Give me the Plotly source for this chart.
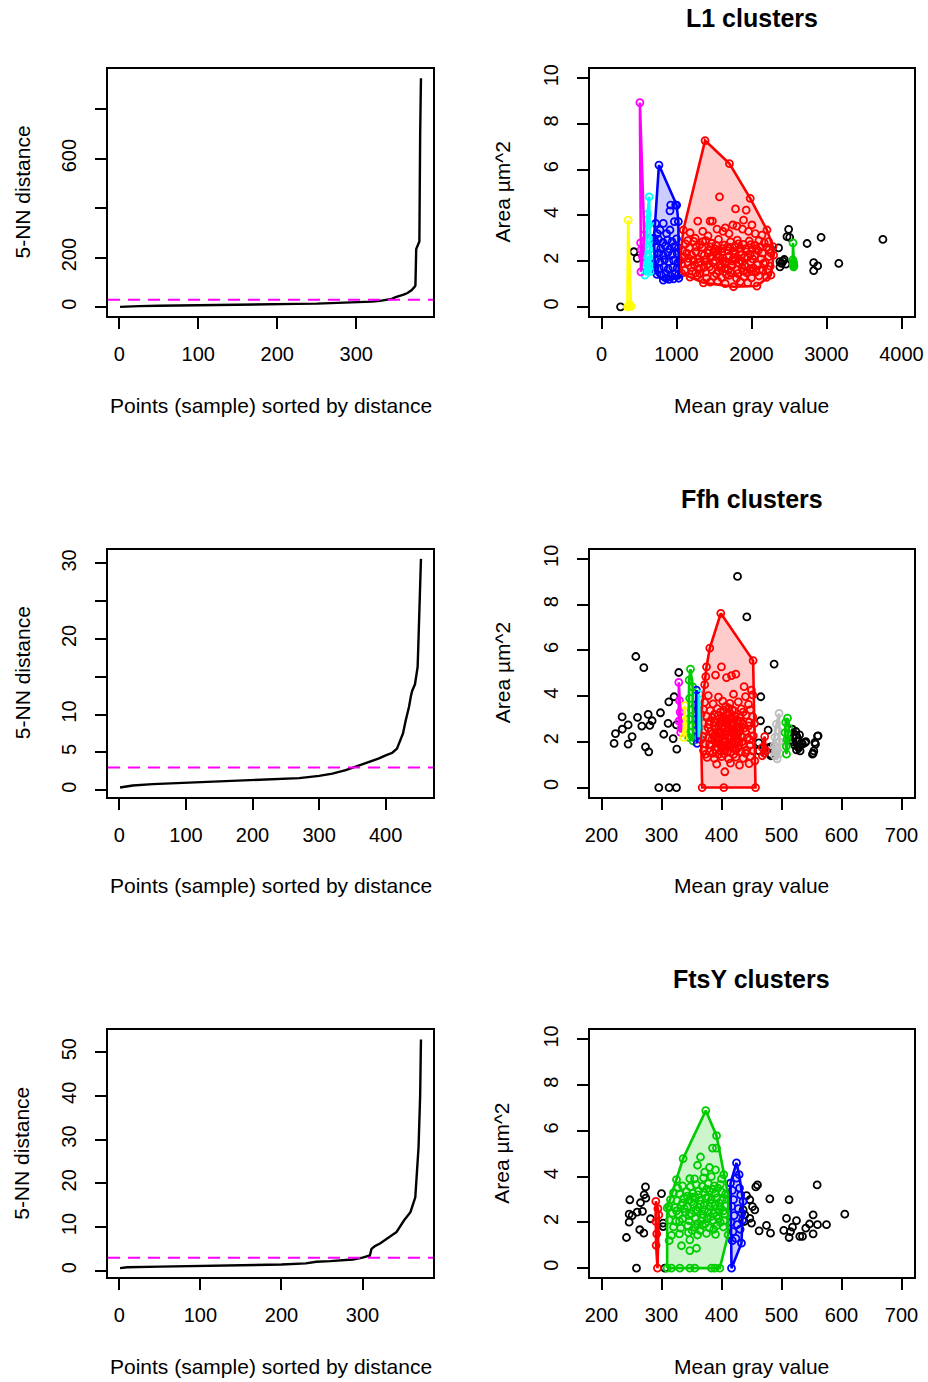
import plotly.graph_objects as go

W, H = 928, 1382
FONT = "Liberation Sans, Arial, Helvetica, sans-serif"

# ---------------- k-NN distance curves (index, distance) ----------------
knn1_idx = [1, 10, 25, 50, 75, 100, 125, 150, 175, 200, 225, 250, 275, 300, 310, 320, 330, 340, 345, 350,
            355, 360, 365, 370, 374, 375, 376, 377, 378, 379, 380, 381, 382]
knn1_val = [1, 3, 4, 5.5, 7, 8, 9, 10, 11, 12, 13, 14, 16, 18, 20, 22, 25, 29, 33, 40,
            44, 50, 57, 68, 82, 88, 235, 245, 250, 258, 265, 700, 925]
knn1_n = 382
eps1 = 30

knn2_idx = [1, 10, 20, 50, 100, 150, 200, 250, 270, 300, 320, 340, 352, 370, 390, 400, 410, 417, 422,
            426, 430, 435, 438, 440, 444, 446, 448, 449, 450, 451, 452, 453]
knn2_val = [0.35, 0.5, 0.62, 0.8, 1.0, 1.15, 1.3, 1.5, 1.6, 1.9, 2.2, 2.65, 3.0, 3.6, 4.2, 4.6, 4.95, 5.5, 6.5,
            7.5, 9.2, 11.0, 12.5, 13.2, 14.0, 15.0, 16.3, 19.0, 22.9, 25.0, 28.0, 30.6]
knn2_n = 453
eps2 = 3

knn3_idx = [1, 10, 50, 100, 150, 200, 230, 243, 260, 288, 300, 309, 311, 315, 322, 330, 342, 351, 359,
            365, 367, 369, 371, 372]
knn3_val = [0.6, 0.8, 0.95, 1.07, 1.25, 1.44, 1.7, 2.05, 2.2, 2.58, 3.0, 3.5, 5.0, 5.6, 6.3, 7.4, 8.9, 11.5, 13.4,
            16.8, 22.9, 28.2, 40.0, 52.9]
knn3_n = 372
eps3 = 3

# ---------------- L1 clusters (mean gray value, area) ----------------
l1_noise = [(254, 0.0), (432, 2.41), (476, 2.12), (2361, 2.58), (2495, 3.39), (2473, 3.07), (2509, 3.04),
            (2437, 2.07), (2379, 1.98), (2379, 1.75), (2459, 1.87), (2741, 2.77), (2928, 3.04), (2829, 1.93),
            (2882, 1.79), (2829, 1.58), (3164, 1.9), (3752, 2.95), (2400, 1.9), (2420, 2.0)]
l1_red = [(1381, 7.27), (1706, 6.26), (1983, 4.74), (2286, 2.63), (2295, 2.26), (2259, 1.39), (2072, 0.91),
          (1760, 0.88), (1359, 1.05), (1069, 1.46), (1047, 2.04), (1091, 3.36),
          (1573, 4.81), (1787, 4.28), (1929, 4.23), (1894, 3.79), (1283, 3.75), (1448, 3.75), (1479, 3.75),
          (1181, 3.24), (1751, 3.58), (1805, 3.53), (2006, 3.58), (2139, 3.14), (2206, 3.36), (2228, 2.85),
          (1650, 3.45), (1620, 3.3), (1700, 3.2), (1540, 3.4), (1350, 3.3), (1420, 3.1), (1960, 3.3),
          (2050, 3.2), (2100, 2.9), (1880, 3.4), (1250, 3.0), (1150, 2.9),
          (1120, 2.75), (1230, 2.86), (1310, 2.71), (1390, 2.9), (1470, 2.78), (1560, 2.95), (1640, 2.7),
          (1720, 2.84), (1810, 2.92), (1890, 2.73), (1970, 2.88), (2050, 2.69), (2170, 2.8),
          (1080, 2.45), (1170, 2.58), (1260, 2.41), (1340, 2.6), (1430, 2.47), (1510, 2.55), (1600, 2.38),
          (1680, 2.62), (1760, 2.44), (1850, 2.57), (1930, 2.4), (2010, 2.52), (2090, 2.46), (2200, 2.6),
          (2260, 2.35),
          (1100, 2.18), (1200, 2.27), (1290, 2.1), (1370, 2.25), (1450, 2.15), (1540, 2.3), (1620, 2.12),
          (1700, 2.22), (1790, 2.08), (1870, 2.28), (1950, 2.16), (2040, 2.24), (2130, 2.1), (2230, 2.2),
          (1070, 1.88), (1150, 1.95), (1240, 1.82), (1320, 1.97), (1410, 1.85), (1490, 1.93), (1580, 1.8),
          (1660, 1.98), (1740, 1.86), (1830, 1.92), (1910, 1.79), (1990, 1.96), (2080, 1.84), (2160, 1.9),
          (2250, 1.78),
          (1110, 1.6), (1210, 1.55), (1300, 1.66), (1390, 1.52), (1470, 1.63), (1560, 1.58), (1640, 1.68),
          (1720, 1.5), (1810, 1.62), (1890, 1.56), (1980, 1.65), (2060, 1.53), (2150, 1.6), (2220, 1.64),
          (1180, 1.3), (1280, 1.36), (1400, 1.25), (1500, 1.33), (1600, 1.28), (1700, 1.38), (1800, 1.24),
          (1900, 1.32), (2000, 1.27), (2100, 1.35), (2200, 1.29),
          (1450, 1.08), (1550, 1.12), (1650, 1.02), (1850, 1.1), (1950, 1.05),
          (1335, 2.32), (1515, 2.02), (1685, 2.45), (1775, 2.65), (1455, 2.62), (1595, 1.72), (1860, 2.02),
          (1225, 2.05), (1925, 2.55), (1365, 1.72), (1555, 2.48), (1745, 2.0), (2015, 2.1), (1645, 1.88),
          (1425, 2.35),
          (1135, 2.35), (1195, 1.72), (1265, 2.62), (1315, 1.45), (1385, 2.05), (1440, 1.75), (1495, 2.4),
          (1530, 1.45), (1575, 2.18), (1615, 2.55), (1665, 1.42), (1710, 2.6), (1735, 1.78), (1780, 2.3),
          (1820, 1.45), (1845, 2.4), (1875, 1.7), (1905, 2.15), (1940, 1.48), (1985, 2.3), (2025, 1.7),
          (2065, 2.55), (2110, 1.62), (2145, 2.35), (2185, 1.95), (2235, 2.5), (1160, 2.12), (1290, 1.92),
          (1350, 2.85), (1525, 2.7), (1690, 1.62), (1825, 2.75), (1990, 2.72), (2120, 2.62), (1255, 1.48),
          (1620, 2.0), (1480, 2.2), (1760, 2.15), (1880, 1.95), (2000, 1.55)]
l1_green = [(2553, 2.8), (2562, 1.75), (2556, 1.85), (2560, 1.95), (2551, 2.05), (2566, 1.8), (2558, 1.9)]
l1_blue = [(766, 6.2), (1002, 4.45), (922, 4.45), (989, 4.45), (913, 4.2), (971, 3.73), (1025, 3.73),
           (722, 3.65), (824, 3.65), (780, 3.36), (913, 3.36), (869, 3.2), (744, 3.2), (1030, 1.25),
           (713, 1.61), (824, 1.17), (700, 3.0),
           (710, 2.88), (760, 2.95), (820, 2.82), (880, 2.93), (940, 2.85), (1000, 2.97),
           (730, 2.6), (790, 2.55), (850, 2.66), (910, 2.52), (970, 2.63), (1025, 2.58),
           (705, 2.3), (765, 2.35), (825, 2.25), (885, 2.38), (945, 2.28), (1010, 2.33),
           (720, 2.02), (780, 1.95), (840, 2.06), (900, 1.98), (960, 2.04), (1020, 1.94),
           (710, 1.72), (770, 1.68), (830, 1.75), (890, 1.66), (950, 1.73), (1010, 1.7),
           (740, 1.42), (800, 1.38), (860, 1.45), (920, 1.36), (980, 1.44), (1025, 1.4),
           (900, 1.2), (960, 1.22), (865, 1.25)]
l1_cyan = [(636, 4.81), (612, 4.05), (630, 3.6), (625, 3.0), (645, 2.9), (615, 2.6), (640, 2.5), (600, 2.3),
           (630, 2.2), (650, 2.0), (605, 1.9), (635, 1.8), (620, 1.6), (579, 1.39), (650, 1.55), (590, 1.7)]
l1_magenta = [(512, 8.93), (570, 3.14), (521, 2.8), (526, 1.53), (545, 2.2), (530, 2.5)]
l1_yellow = [(356, 3.79), (345, 0.0), (365, 0.02), (392, 0.02), (380, 0.1), (372, 0.05)]

# ---------------- Ffh clusters ----------------
ffh_noise = [(426.7, 9.23), (442.2, 7.46), (257.2, 5.73), (270.5, 5.24), (487.7, 5.4), (328.8, 5.03),
             (321, 3.97), (312.2, 3.75), (465.5, 3.97), (465, 2.92), (234.4, 3.09), (260, 3.07), (277.8, 3.2),
             (298.3, 3.27), (284.4, 2.92), (244.4, 2.74), (234.6, 2.55), (223.3, 2.36), (251, 2.23),
             (267.2, 2.69), (280.5, 2.72), (311, 2.81), (325, 2.74), (303.8, 2.33), (319.4, 2.14),
             (221, 1.93), (244.4, 1.9), (273.3, 1.78), (278.8, 1.56), (325.5, 1.68), (295.5, 0.0),
             (312.7, 0.0), (325, 0.0), (477.7, 2.51), (462.2, 1.95), (462.2, 1.61), (479.4, 1.75),
             (482.2, 1.46), (476.6, 1.72), (539.4, 1.96), (560, 2.25), (556.7, 1.9), (552.8, 1.5),
             (482.2, 1.78), (482.2, 1.39), (555.5, 1.97), (553.9, 1.6), (561, 2.26), (551.6, 1.46),
             (540.5, 2.01)]
ffh_red = [(398.8, 7.62), (452.7, 5.55), (456.7, 0.0), (403.8, 0.0), (367.8, 0.0), (380.5, 6.1), (375, 5.28),
           (399.9, 5.28), (390, 4.92), (408.3, 4.81), (416.7, 4.89), (423.9, 4.96), (373.8, 4.85), (372, 4.5),
           (437.7, 4.41), (449.9, 4.26), (405.5, 0.69), (446, 1.05), (455.6, 1.17), (373.9, 1.46),
           (366, 3.2), (366, 2.1),
           (378, 4.02), (395, 3.95), (420, 4.08), (440, 3.98), (452, 4.05),
           (372, 3.72), (386, 3.66), (402, 3.78), (414, 3.68), (428, 3.75), (445, 3.64),
           (370, 3.42), (381, 3.36), (393, 3.45), (404, 3.38), (412, 3.47), (421, 3.35), (433, 3.44), (448, 3.4),
           (375, 3.12), (385, 3.06), (394, 3.15), (401, 3.08), (408, 3.17), (415, 3.05), (423, 3.13),
           (431, 3.07), (441, 3.16), (452, 3.1),
           (369, 2.82), (379, 2.76), (388, 2.86), (396, 2.78), (403, 2.88), (409, 2.75), (415, 2.84),
           (421, 2.79), (428, 2.87), (436, 2.77), (446, 2.85), (455, 2.8),
           (372, 2.52), (382, 2.46), (390, 2.56), (397, 2.48), (403, 2.58), (408, 2.45), (413, 2.55),
           (418, 2.47), (424, 2.57), (431, 2.5), (440, 2.44), (450, 2.54),
           (369, 2.22), (378, 2.16), (387, 2.25), (394, 2.18), (400, 2.28), (406, 2.15), (411, 2.24),
           (416, 2.19), (421, 2.27), (427, 2.14), (434, 2.23), (443, 2.17), (453, 2.26),
           (373, 1.92), (383, 1.86), (391, 1.95), (398, 1.88), (404, 1.96), (410, 1.85), (416, 1.94),
           (422, 1.87), (429, 1.97), (437, 1.9), (447, 1.84),
           (370, 1.62), (380, 1.56), (390, 1.65), (399, 1.58), (407, 1.66), (415, 1.55), (424, 1.64),
           (433, 1.57), (442, 1.63), (452, 1.6),
           (376, 1.32), (388, 1.27), (400, 1.35), (412, 1.25), (424, 1.33), (436, 1.28), (448, 1.36),
           (392, 1.02), (415, 1.07), (430, 0.98),
           (398, 2.35), (405, 2.05), (412, 2.62), (419, 2.35), (395, 2.68), (408, 2.95), (418, 2.0),
           (425, 2.4), (402, 1.75), (411, 1.78), (385, 2.35), (430, 2.65), (392, 2.1), (414, 3.25),
           (396, 2.4), (401, 2.62), (406, 2.32), (410, 2.5), (414, 2.12), (417, 2.7), (420, 2.48), (423, 2.02),
           (427, 2.32), (400, 2.92), (404, 3.0), (411, 2.9), (419, 3.0), (426, 2.95), (393, 2.25), (389, 2.7),
           (384, 2.1), (381, 2.9), (396, 2.05), (405, 1.8), (413, 1.9), (420, 1.72), (428, 1.75), (434, 2.0),
           (438, 2.6), (432, 2.9), (436, 3.3), (398, 3.3), (407, 3.55), (418, 3.4), (388, 3.2), (378, 2.6),
           (380, 1.9), (386, 1.5), (395, 1.45), (404, 1.48), (420, 1.45), (440, 1.5), (447, 2.1), (445, 2.7),
           (410, 1.58), (394, 1.75)]
ffh_green_a = [(348.3, 5.18), (346, 4.7), (352, 4.4), (347, 3.9), (350, 3.4), (346, 3.0), (351, 2.7),
               (348, 2.4), (352.7, 2.04), (345, 2.2)]
ffh_blue = [(358.3, 4.26), (357, 3.6), (359, 3.0), (358, 2.5), (359.4, 1.93), (360, 2.2)]
ffh_cyan = [(362.2, 4.09), (363, 3.5), (362, 3.0), (363.5, 2.6), (362, 2.2)]
ffh_magenta = [(328.8, 4.6), (330, 3.8), (331, 3.3), (329, 2.9), (332, 2.41), (333, 2.6)]
ffh_yellow = [(338.8, 3.58), (338, 2.9), (340, 2.5), (337, 2.19)]
ffh_gray = [(496, 3.24), (491.7, 2.77), (494, 2.5), (489, 2.2), (496, 2.0), (488, 1.85), (493, 1.7),
            (490, 1.55), (488.8, 1.39), (492.8, 1.25), (497, 1.5), (485, 1.6)]
ffh_black = [(518, 2.55), (524, 2.45), (530, 2.3), (520, 2.2), (527, 2.05), (533, 1.95), (522, 1.85),
             (529, 1.75), (535, 1.9), (525, 1.65), (531, 1.6), (519, 2.0)]
ffh_red_b = [(472, 2.23), (468, 1.39), (474, 1.61), (468, 1.75), (471, 1.5)]
ffh_green_b = [(510, 3.04), (507, 2.85), (512, 2.6), (506, 2.4), (509, 2.1), (508, 1.8), (508.3, 1.46),
               (511, 2.3)]

# ---------------- FtsY clusters ----------------
ftsy_noise = [(273.3, 3.55), (247.2, 2.99), (271.1, 3.21), (273.9, 3.06), (265, 2.86), (300, 3.26),
              (246.1, 2.36), (251.1, 2.3), (259.4, 2.45), (268.3, 2.48), (246.1, 2.01), (281.7, 2.16),
              (263.8, 1.68), (270.5, 1.53), (241.6, 1.34), (302.7, 1.97), (302.7, 1.82), (258.3, 0.0),
              (305.5, 0.0), (460, 3.64), (457.2, 3.55), (441.7, 3.17), (447.2, 2.99), (451.7, 2.69),
              (455.5, 2.55), (436.1, 2.55), (438.9, 2.33), (447.2, 2.18), (450, 1.97), (437.8, 2.04),
              (462.7, 1.63), (475, 1.87), (481.7, 1.53), (480.5, 3.03), (512.7, 3.0), (508.3, 2.18),
              (525, 2.08), (503.8, 1.65), (515, 1.6), (518.3, 1.79), (512.7, 1.34), (530.5, 1.39),
              (535, 1.39), (540.5, 1.75), (546.7, 1.93), (552.7, 2.33), (552.7, 1.5), (559.4, 3.64),
              (560, 1.9), (575, 1.9), (605.5, 2.36)]
ftsy_red = [(290.5, 2.92), (295.5, 2.33), (290.5, 2.04), (293.3, 0.0), (292, 1.5), (291, 1.0), (294, 2.6)]
ftsy_green = [(373.8, 6.89), (391.7, 5.79), (403.8, 4.09), (411, 3.21), (411, 1.46), (397.2, 0.0),
              (309.4, 0.0), (309.4, 2.63), (325, 3.87), (336, 4.79),
              (316.6, 0.0), (330.5, 0.0), (347.2, 0.0), (355.5, 0.0), (383.3, 0.0), (388.9, 0.0),
              (365, 4.86), (385, 5.25), (391.7, 5.25), (347.2, 3.91), (333.3, 0.98), (347.2, 0.77),
              (358.3, 0.87), (347.2, 1.24), (312.7, 1.2), (316.6, 1.43), (380, 4.4), (372, 4.2), (390, 4.3),
              (360, 4.5),
              (335, 3.6), (348, 3.55), (358, 3.65), (368, 3.58), (378, 3.7), (388, 3.6), (398, 3.66),
              (320, 3.3), (330, 3.25), (342, 3.35), (352, 3.28), (362, 3.38), (371, 3.3), (380, 3.36),
              (390, 3.27), (400, 3.34), (407, 3.25),
              (315, 3.0), (326, 2.95), (337, 3.05), (347, 2.98), (356, 3.08), (365, 2.96), (374, 3.06),
              (383, 2.99), (392, 3.07), (401, 2.97), (409, 3.02),
              (312, 2.7), (322, 2.65), (333, 2.75), (343, 2.68), (353, 2.78), (362, 2.66), (371, 2.76),
              (380, 2.69), (389, 2.77), (398, 2.67), (407, 2.72),
              (318, 2.4), (329, 2.35), (340, 2.45), (350, 2.38), (360, 2.48), (369, 2.36), (378, 2.46),
              (387, 2.39), (396, 2.47), (405, 2.37),
              (313, 2.1), (324, 2.05), (335, 2.15), (346, 2.08), (356, 2.18), (366, 2.06), (376, 2.16),
              (386, 2.09), (395, 2.17), (404, 2.07),
              (320, 1.8), (332, 1.75), (344, 1.85), (356, 1.78), (368, 1.88), (380, 1.76), (392, 1.86),
              (403, 1.8),
              (330, 1.5), (345, 1.55), (360, 1.45), (375, 1.52), (390, 1.48),
              (365, 2.8), (372, 2.55), (378, 3.1), (384, 2.82), (357, 2.55), (350, 2.9), (338, 2.6),
              (396, 2.85), (403, 2.5), (392, 2.3), (361, 3.2), (375, 3.45), (386, 3.45), (368, 2.2),
              (382, 2.25), (346, 2.3), (352, 3.1), (343, 3.15), (394, 3.5), (360, 1.95), (373, 1.95),
              (398, 2.0), (387, 1.7), (330, 2.05), (325, 2.5), (335, 2.85), (327, 3.5), (370, 3.95),
              (383, 4.0), (400, 3.9), (355, 3.9), (364, 1.65), (351, 1.65)]
ftsy_blue = [(425, 4.6), (429.4, 4.09), (436, 2.92), (433.3, 1.09), (416.7, 0.0), (415, 3.72), (425, 3.94),
             (418, 3.4), (430, 3.5), (420, 3.0), (432, 3.2), (417, 2.7), (428, 2.6), (421, 2.3), (434, 2.4),
             (416, 2.0), (426, 1.9), (419, 1.6), (431, 1.7), (424, 1.3), (418, 1.2), (435, 2.1)]

# R palette colours
C = {"black": "#000000", "red": "#FF0000", "green": "#00CD00", "blue": "#0000FF", "cyan": "#00FFFF",
     "magenta": "#FF00FF", "yellow": "#FFFF00", "gray": "#BEBEBE"}

titles = ["L1 clusters", "Ffh clusters", "FtsY clusters"]

panels_knn = [(knn1_idx, knn1_val, knn1_n, eps1, [0, 200, 400, 600, 800], ["0", "200", "", "600", ""],
               [0, 100, 200, 300]),
              (knn2_idx, knn2_val, knn2_n, eps2, [0, 5, 10, 15, 20, 25, 30], ["0", "5", "10", "", "20", "", "30"],
               [0, 100, 200, 300, 400]),
              (knn3_idx, knn3_val, knn3_n, eps3, [0, 10, 20, 30, 40, 50], ["0", "10", "20", "30", "40", "50"],
               [0, 100, 200, 300])]

panels_clu = [
    (l1_noise, [(l1_red, "red"), (l1_green, "green"), (l1_blue, "blue"), (l1_cyan, "cyan"),
                (l1_magenta, "magenta"), (l1_yellow, "yellow")], (0, 4000), [0, 1000, 2000, 3000, 4000]),
    (ffh_noise, [(ffh_red, "red"), (ffh_green_a, "green"), (ffh_blue, "blue"), (ffh_cyan, "cyan"),
                 (ffh_magenta, "magenta"), (ffh_yellow, "yellow"), (ffh_gray, "gray"), (ffh_black, "black"),
                 (ffh_red_b, "red"), (ffh_green_b, "green")], (200, 700), [200, 300, 400, 500, 600, 700]),
    (ftsy_noise, [(ftsy_red, "red"), (ftsy_green, "green"), (ftsy_blue, "blue")], (200, 700),
     [200, 300, 400, 500, 600, 700]),
]

LEFT = (108, 433)
RIGHT = (589.5, 913.5)
TOPS = [69, 549.7, 1030.3]
BOTS = [316, 796.7, 1277.3]


def ext(a, b):
    s = b - a
    return [a - 0.04 * s, b + 0.04 * s]


def hull(points):
    pts = sorted(set(points))
    if len(pts) <= 2:
        return pts

    def cross(o, a, b):
        return (a[0] - o[0]) * (b[1] - o[1]) - (a[1] - o[1]) * (b[0] - o[0])

    lower, upper = [], []
    for p in pts:
        while len(lower) >= 2 and cross(lower[-2], lower[-1], p) <= 0:
            lower.pop()
        lower.append(p)
    for p in reversed(pts):
        while len(upper) >= 2 and cross(upper[-2], upper[-1], p) <= 0:
            upper.pop()
        upper.append(p)
    return lower[:-1] + upper[:-1]


def rgba(hexc, a):
    h = hexc.lstrip("#")
    return "rgba(%d,%d,%d,%s)" % (int(h[0:2], 16), int(h[2:4], 16), int(h[4:6], 16), a)


fig = go.Figure()
layout = dict(width=W, height=H, margin=dict(l=0, r=0, t=0, b=0, autoexpand=False), paper_bgcolor="white",
              plot_bgcolor="white", showlegend=False, template="none",
              font=dict(family=FONT, color="black", size=20))
annotations = []
shapes = []

TF = dict(family=FONT, size=20, color="black")
LF = dict(family=FONT, size=21, color="black")


def axis_common():
    return dict(showline=True, mirror=True, linecolor="black", linewidth=2, ticks="outside", ticklen=11,
                tickwidth=2, tickcolor="black", showgrid=False, zeroline=False, tickfont=TF,
                automargin=False, fixedrange=True)


for r in range(3):
    top, bot = TOPS[r], BOTS[r]
    ydom = [1 - bot / H, 1 - top / H]
    for c in range(2):
        k = r * 2 + c + 1
        sx = "" if k == 1 else str(k)
        xa, ya = "x" + sx, "y" + sx
        box = LEFT if c == 0 else RIGHT
        xdom = [box[0] / W, box[1] / W]
        xax = axis_common()
        yax = axis_common()
        xax.update(domain=xdom, anchor=ya, ticklabelstandoff=8)
        yax.update(domain=ydom, anchor=xa, tickangle=-90, ticklabelstandoff=11)
        if c == 0:
            idx, val, n, eps, yt, ytt, xt = panels_knn[r]
            xax.update(range=ext(1, n), tickvals=xt, ticktext=[str(v) for v in xt])
            yax.update(range=ext(min(val), max(val)), tickvals=yt, ticktext=ytt)
            fig.add_trace(go.Scatter(x=idx, y=val, mode="lines", line=dict(color="black", width=2.4),
                                     xaxis=xa, yaxis=ya, hoverinfo="skip"))
            shapes.append(dict(type="line", xref=xa + " domain", x0=0, x1=1, yref=ya, y0=eps, y1=eps,
                               line=dict(color="#FF00FF", width=2, dash="12px,8px")))
            cx = (box[0] + box[1]) / 2
            annotations.append(dict(text="Points (sample) sorted by distance", x=cx / W, y=1 - (bot + 89) / H,
                                    xref="paper", yref="paper", showarrow=False, xanchor="center",
                                    yanchor="middle", font=LF))
            annotations.append(dict(text="5-NN distance", x=22 / W, y=1 - ((top + bot) / 2) / H,
                                    xref="paper", yref="paper", showarrow=False, xanchor="center",
                                    yanchor="middle", textangle=-90, font=LF))
        else:
            noise, clusters, xl, xt = panels_clu[r]
            xax.update(range=ext(*xl), tickvals=xt, ticktext=[str(v) for v in xt])
            yax.update(range=ext(0, 10), tickvals=[0, 2, 4, 6, 8, 10],
                       ticktext=["0", "2", "4", "6", "8", "10"])
            mk = dict(symbol="circle-open", size=7, line=dict(width=1.8))
            fig.add_trace(go.Scatter(x=[p[0] for p in noise], y=[p[1] for p in noise], mode="markers",
                                     marker=dict(color="black", **mk), xaxis=xa, yaxis=ya, hoverinfo="skip"))
            for pts, col in clusters:
                fig.add_trace(go.Scatter(x=[p[0] for p in pts], y=[p[1] for p in pts], mode="markers",
                                         marker=dict(color=C[col], **mk), xaxis=xa, yaxis=ya,
                                         hoverinfo="skip"))
            for pts, col in clusters:
                h = hull(pts)
                h = h + [h[0]]
                fig.add_trace(go.Scatter(x=[p[0] for p in h], y=[p[1] for p in h], mode="lines",
                                         fill="toself", fillcolor=rgba(C[col], 0.2),
                                         line=dict(color=C[col], width=2.6), xaxis=xa, yaxis=ya,
                                         hoverinfo="skip"))
            cx = (box[0] + box[1]) / 2
            annotations.append(dict(text="<b>%s</b>" % titles[r], x=cx / W, y=1 - (top - 51) / H,
                                    xref="paper", yref="paper", showarrow=False, xanchor="center",
                                    yanchor="middle", font=dict(family=FONT, size=25, color="black")))
            annotations.append(dict(text="Mean gray value", x=cx / W, y=1 - (bot + 89) / H,
                                    xref="paper", yref="paper", showarrow=False, xanchor="center",
                                    yanchor="middle", font=LF))
            annotations.append(dict(text="Area µm^2", x=502 / W, y=1 - ((top + bot) / 2) / H,
                                    xref="paper", yref="paper", showarrow=False, xanchor="center",
                                    yanchor="middle", textangle=-90, font=LF))
        layout["xaxis" + sx] = xax
        layout["yaxis" + sx] = yax

layout["annotations"] = annotations
layout["shapes"] = shapes
fig.update_layout(**layout)
fig.write_html("out.html", config={"displayModeBar": False, "staticPlot": True},
               post_script="document.body.style.margin='0px';document.body.style.overflow='hidden';")
